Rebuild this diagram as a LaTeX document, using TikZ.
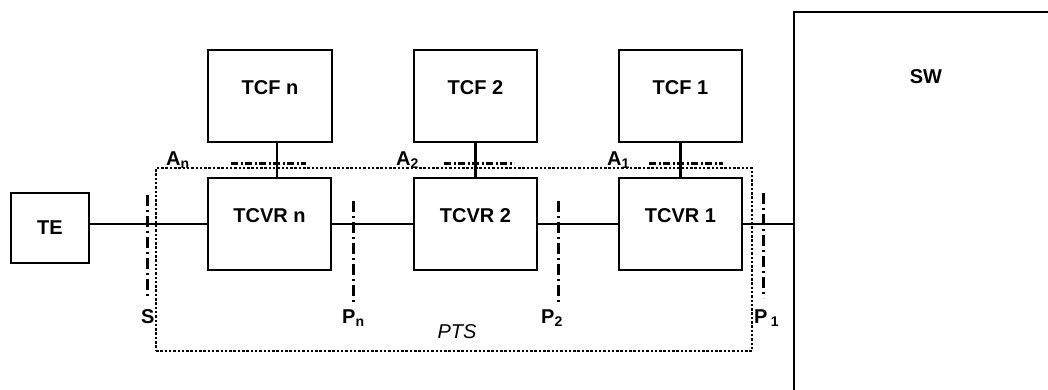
\documentclass[tikz,border=0pt]{standalone}
\usepackage{fontspec}
\setmainfont{Liberation Sans}
\begin{document}
\begin{tikzpicture}[x=1pt,y=-1pt,
  box/.style={draw,line width=2.4pt,inner sep=0pt,rectangle},
  lbl/.style={font=\fontsize{20}{24}\selectfont\bfseries,inner sep=0pt},
  conn/.style={line width=2.2pt},
  ifline/.style={line width=3pt,dash pattern=on 11pt off 4pt on 2pt off 4pt},
  aline/.style={line width=3pt,dash pattern=on 7pt off 2.5pt on 2pt off 2.5pt},
  ptsbox/.style={draw,line width=2pt,dash pattern=on 2.5pt off 1.8pt,inner sep=0pt,rectangle}]
\useasboundingbox (0,0) rectangle (1048,389);
\clip (0,0) rectangle (1048,389);
% PTS boundary
\node[ptsbox,minimum width=596pt,minimum height=183pt] (pts) at (454,259.5) {};
\node[font=\fontsize{20}{24}\selectfont\itshape,inner sep=0pt] (ptslbl) at (457,332) {PTS};
% boxes
\node[box,minimum width=78pt,minimum height=70pt,label={[lbl]center:TE}] (te) at (50,228) {};
\node[box,minimum width=123pt,minimum height=92pt,label={[lbl,yshift=8pt]center:TCVR n}] (tcvrn) at (269.5,224) {};
\node[box,minimum width=123pt,minimum height=92pt,label={[lbl,yshift=8pt]center:TCVR 2}] (tcvr2) at (475.5,224) {};
\node[box,minimum width=123pt,minimum height=92pt,label={[lbl,yshift=8pt]center:TCVR 1}] (tcvr1) at (680.5,224) {};
\node[box,minimum width=124pt,minimum height=92pt,label={[lbl,yshift=8pt]center:TCF n}] (tcfn) at (270,96) {};
\node[box,minimum width=123pt,minimum height=92pt,label={[lbl,yshift=8pt]center:TCF 2}] (tcf2) at (475.5,96) {};
\node[box,minimum width=123pt,minimum height=92pt,label={[lbl,yshift=8pt]center:TCF 1}] (tcf1) at (680.5,96) {};
\node[box,minimum width=280pt,minimum height=400pt] (sw) at (934,212) {};
\node[lbl] (swlbl) at (926,77) {SW};
% connectors
\draw[conn] (te.east |- tcvrn.west) -- (tcvrn.west);
\draw[conn] (tcvrn.east) -- (tcvr2.west);
\draw[conn] (tcvr2.east) -- (tcvr1.west);
\draw[conn] (tcvr1.east) -- (tcvr1.east -| sw.west);
\draw[conn] ([xshift=7pt]tcfn.south) -- ([xshift=7pt]tcfn.south |- tcvrn.north);
\draw[conn] (tcf2.south) -- (tcvr2.north);
\draw[conn] (tcf1.south) -- (tcvr1.north);
% reference points
\coordinate (s1) at (147,195); \coordinate (s2) at (147,298);
\coordinate (pn1) at (353,201); \coordinate (pn2) at (353,305);
\coordinate (p21) at (558,201); \coordinate (p22) at (558,305);
\coordinate (p11) at (763,193); \coordinate (p12) at (763,298);
\draw[ifline] (s1) -- (s2);
\draw[ifline] (pn1) -- (pn2);
\draw[ifline] (p21) -- (p22);
\draw[ifline] (p11) -- (p12);
\coordinate (an1) at (231,163); \coordinate (an2) at (306,163);
\coordinate (a21) at (444,163); \coordinate (a22) at (514,163);
\coordinate (a11) at (649,163); \coordinate (a12) at (723,163);
\draw[aline] (an1) -- (an2);
\draw[aline] (a21) -- (a22);
\draw[aline] (a11) -- (a12);
% labels
\node[lbl,anchor=base west] (slbl) at (141,323) {S};
\node[lbl,anchor=base west] (pnlbl) at (342,323) {P\textsubscript{n}};
\node[lbl,anchor=base west] (p2lbl) at (541,323) {P\textsubscript{2}};
\node[lbl,anchor=base west] (p1lbl) at (754,323) {P\,\textsubscript{1}};
\node[lbl,anchor=base west] (anlbl) at (166,165) {A\textsubscript{n}};
\node[lbl,anchor=base west] (a2lbl) at (396,165) {A\textsubscript{2}};
\node[lbl,anchor=base west] (a1lbl) at (607,165) {A\textsubscript{1}};
\end{tikzpicture}
\end{document}
